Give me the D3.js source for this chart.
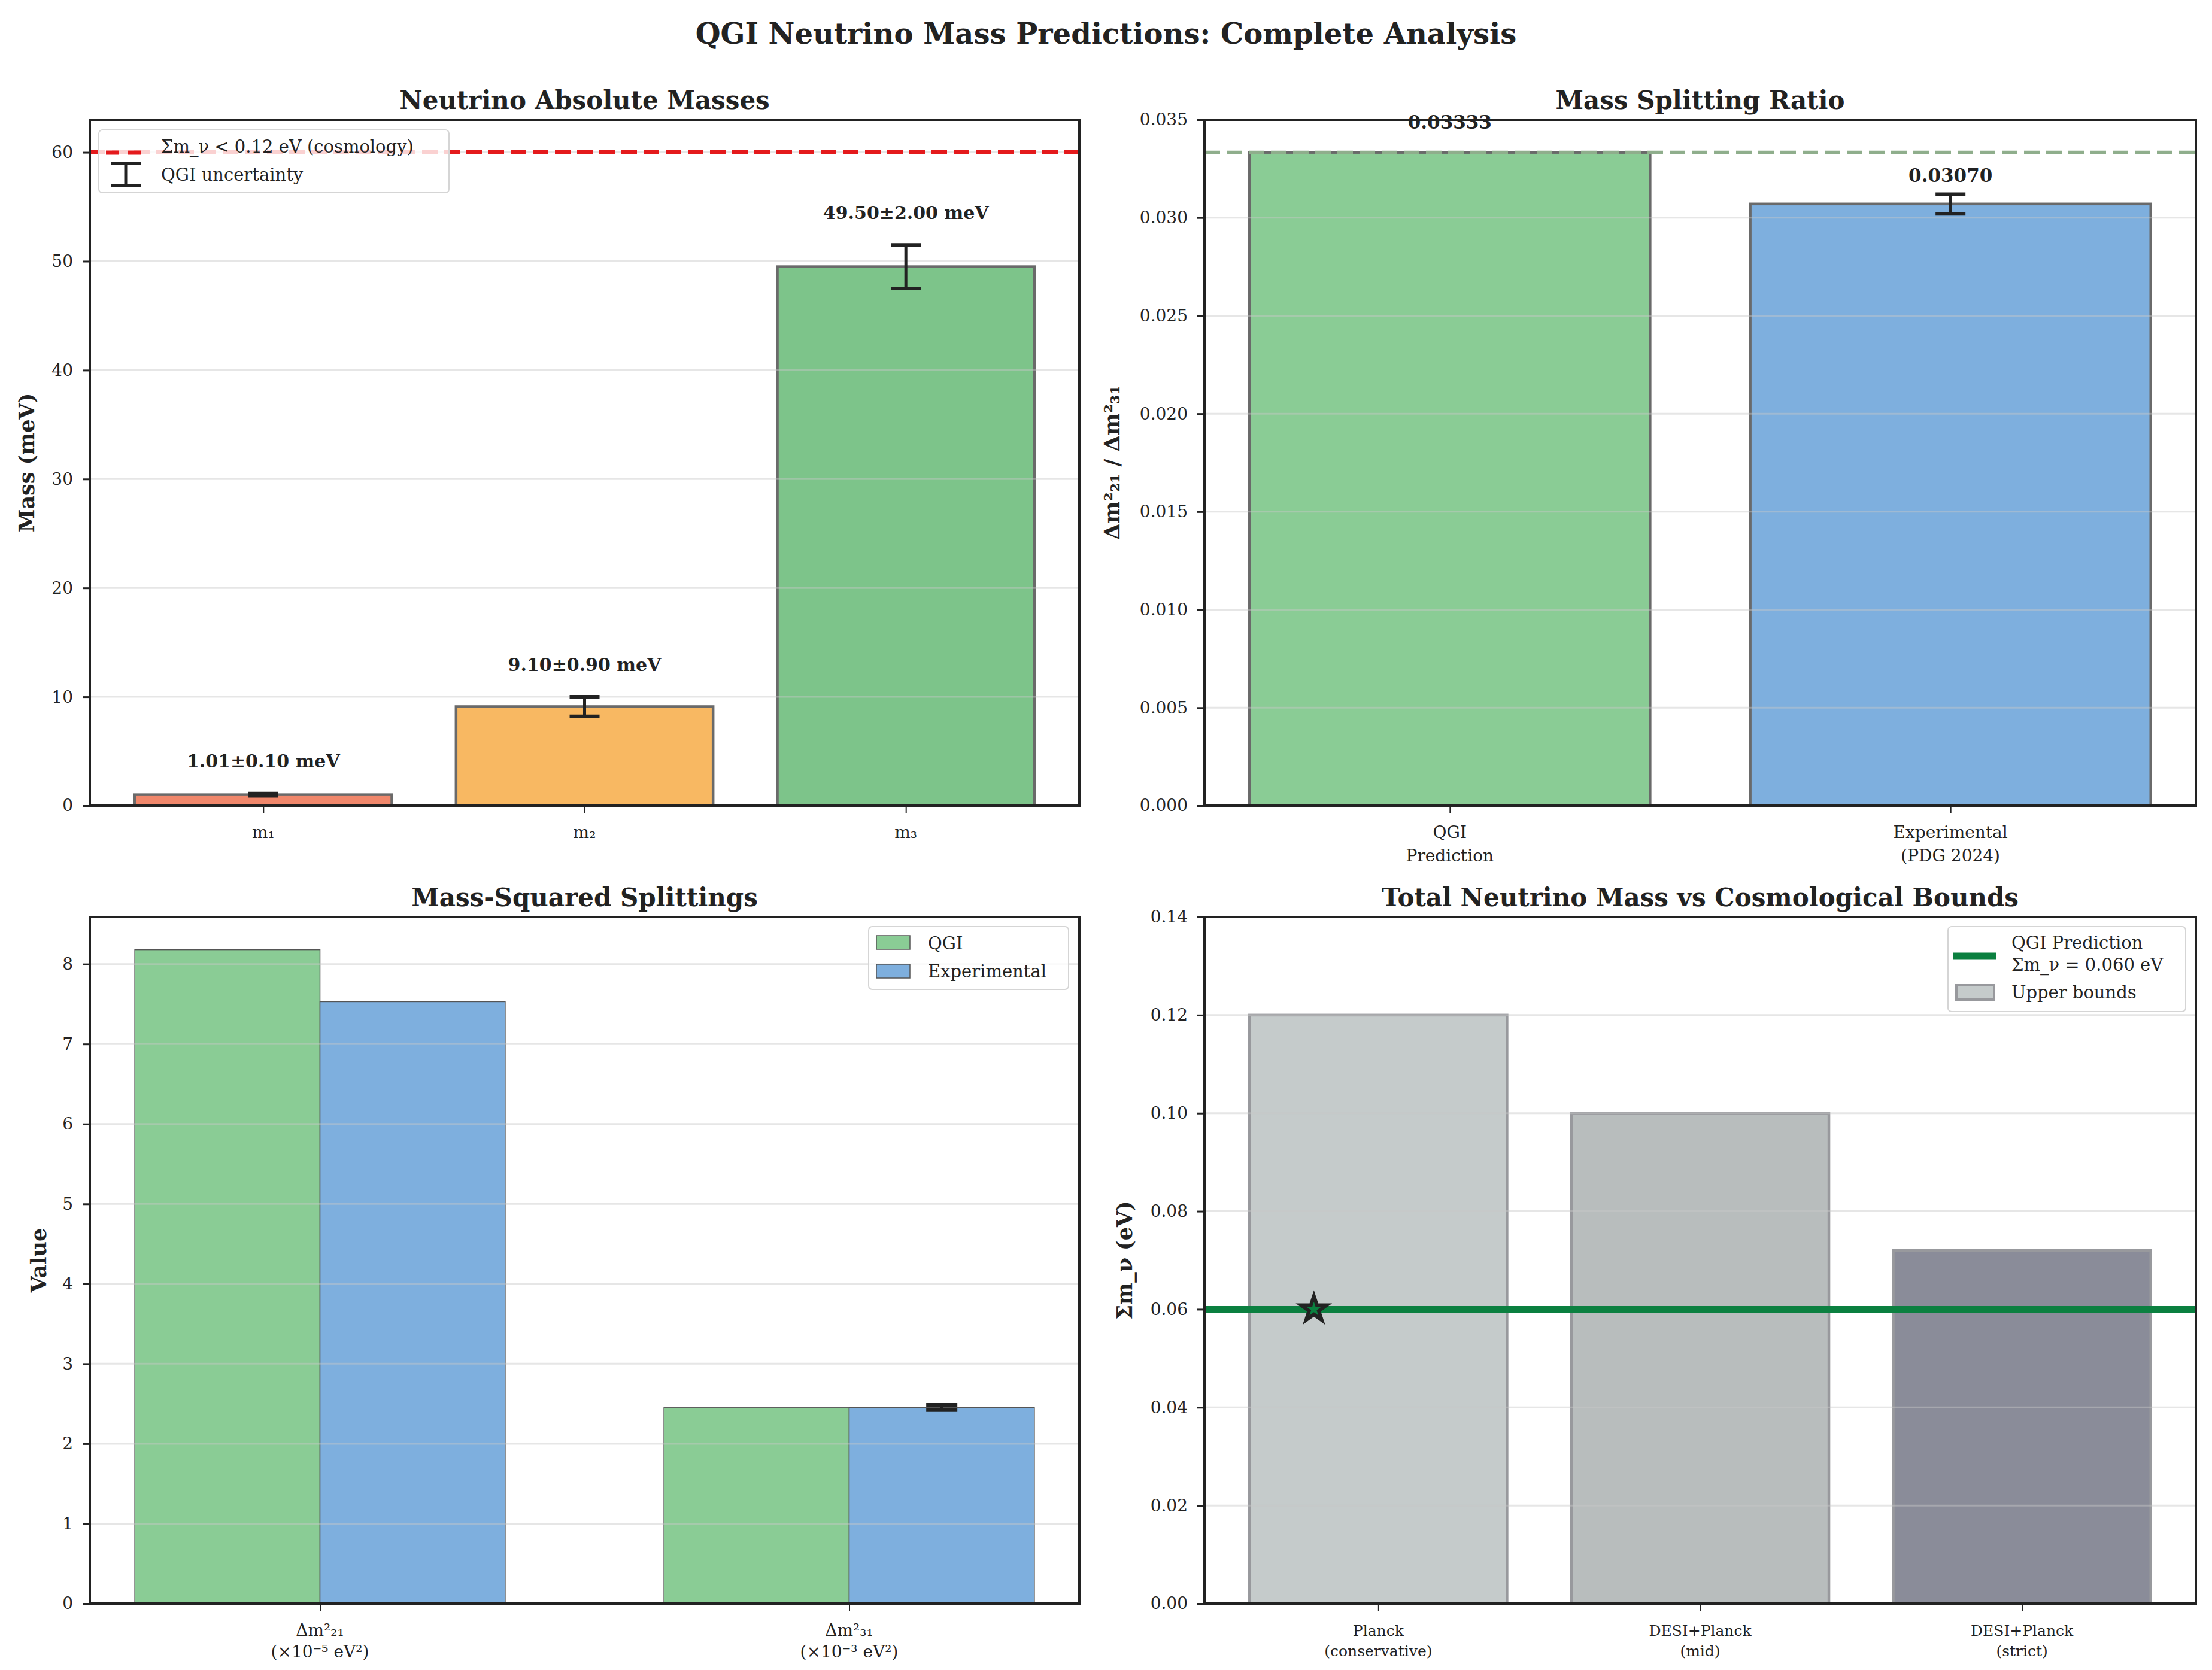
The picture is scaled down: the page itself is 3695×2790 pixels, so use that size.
<!DOCTYPE html>
<html>
<head>
<meta charset="utf-8">
<script src="https://cdn.jsdelivr.net/npm/d3@7"></script>
<style>
  body { margin: 0; background: #fff; }
  svg text { font-family: "DejaVu Serif", serif; fill: #222; }
</style>
</head>
<body>
<svg id="chart"></svg>
<script>
// ---- data ----
const massLabels = [['m₁'], ['m₂'], ['m₃']];
const massValues = [1.01, 9.10, 49.50];
const massErrors = [0.10, 0.90, 2.00];
const cosmoLimit = 60; // meV, Σm_ν < 0.12 eV line

const ratioLabels = [['QGI', 'Prediction'], ['Experimental', '(PDG 2024)']];
const ratioValues = [0.03333, 0.03070];
const ratioErrors = [null, 0.0005];

const splitLabels = [['Δm²₂₁', '(×10⁻⁵ eV²)'], ['Δm²₃₁', '(×10⁻³ eV²)']];
const splitQGI = [8.18, 2.45];
const splitExp = [7.53, 2.453];
const splitExpErr = [null, 0.033];

const boundLabels = [['Planck', '(conservative)'], ['DESI+Planck', '(mid)'], ['DESI+Planck', '(strict)']];
const boundValues = [0.12, 0.10, 0.072];
const qgiSum = 0.060;

// ---- styles ----
const massColors = ['#F0876B', '#F8B862', '#7DC48A'];
const ratioColors = ['#8ACC95', '#7EAFDE'];
const boundColors = ['#C5CBCB', '#B8BDBD', '#8A8C99'];
const ink = '#222';

const W = 3695, H = 2790;
const svg = d3.select('#chart').attr('width', W).attr('height', H);

function panel(box, xDomain, yDomain) {
    const g = svg.append('g').attr('transform', `translate(${box.x},${box.y})`);
    const x = d3.scaleLinear().domain(xDomain).range([0, box.w]);
    const y = d3.scaleLinear().domain(yDomain).range([box.h, 0]);
    return {
        g, x, y, box,
        bars: g.append('g'),
        grid: g.append('g'),
        lines: g.append('g'),
        over: g.append('g'),
        axes: g.append('g')
    };
}

function drawAxes(p, yTicks, yFmt, xLabels, xFont, lineH) {
    // grid
    p.grid.selectAll('line').data(yTicks).join('line')
        .attr('x1', 0).attr('x2', p.box.w)
        .attr('y1', d => p.y(d)).attr('y2', d => p.y(d))
        .attr('stroke', '#c8c8c8').attr('stroke-opacity', 0.45).attr('stroke-width', 3);

    const yAxis = d3.axisLeft(p.y).tickValues(yTicks).tickFormat(yFmt)
        .tickSize(12).tickPadding(16);
    const ya = p.axes.append('g').call(yAxis);
    ya.select('.domain').remove();
    ya.selectAll('line').attr('stroke', ink).attr('stroke-width', 3);
    ya.selectAll('text').attr('font-size', 28).attr('font-family', 'DejaVu Serif').attr('fill', ink);

    const xAxis = d3.axisBottom(p.x).tickValues(d3.range(xLabels.length))
        .tickSize(12).tickFormat('');
    const xa = p.axes.append('g').attr('transform', `translate(0,${p.box.h})`).call(xAxis);
    xa.select('.domain').remove();
    xa.selectAll('line').attr('stroke', ink).attr('stroke-width', 2);
    xLabels.forEach((lines, i) => {
        const t = p.axes.append('text')
            .attr('x', p.x(i)).attr('y', p.box.h + 54)
            .attr('text-anchor', 'middle').attr('font-size', xFont);
        lines.forEach((s, k) => {
            t.append('tspan').attr('x', p.x(i)).attr('dy', k === 0 ? 0 : lineH).text(s);
        });
    });

    // spines
    p.axes.append('rect').attr('width', p.box.w).attr('height', p.box.h)
        .attr('fill', 'none').attr('stroke', ink).attr('stroke-width', 4);
}

function title(p, text) {
    svg.append('text').attr('x', p.box.x + p.box.w / 2).attr('y', p.box.y - 18)
        .attr('text-anchor', 'middle').attr('font-size', 42).attr('font-weight', 'bold').text(text);
}

function yLabel(p, cx, text) {
    svg.append('text')
        .attr('transform', `translate(${cx},${p.box.y + p.box.h / 2}) rotate(-90)`)
        .attr('text-anchor', 'middle').attr('dominant-baseline', 'central')
        .attr('font-size', 35).attr('font-weight', 'bold').text(text);
}

function errorBar(layer, cx, y0, y1, capW) {
    layer.append('line').attr('x1', cx).attr('x2', cx).attr('y1', y0).attr('y2', y1)
        .attr('stroke', ink).attr('stroke-width', 5);
    [y0, y1].forEach(yy => layer.append('line')
        .attr('x1', cx - capW / 2).attr('x2', cx + capW / 2).attr('y1', yy).attr('y2', yy)
        .attr('stroke', ink).attr('stroke-width', 6));
}

function legendBox(p, x, y, w, h) {
    p.over.append('rect').attr('x', x).attr('y', y).attr('width', w).attr('height', h)
        .attr('rx', 6).attr('fill', '#fff').attr('fill-opacity', 0.8)
        .attr('stroke', '#d5d5d5').attr('stroke-width', 2);
}

// main title
svg.append('text').attr('x', W / 2).attr('y', 73).attr('text-anchor', 'middle')
    .attr('font-size', 48).attr('font-weight', 'bold')
    .text('QGI Neutrino Mass Predictions: Complete Analysis');

// ---- panel 1: absolute masses ----
{
    const p = panel({ x: 150, y: 200, w: 1653, h: 1146 }, [-0.54, 2.54], [0, 63]);
    const bw = p.x(0.8) - p.x(0);
    p.bars.selectAll('rect').data(massValues).join('rect')
        .attr('x', (d, i) => p.x(i - 0.4)).attr('width', bw)
        .attr('y', d => p.y(d)).attr('height', d => p.y(0) - p.y(d))
        .attr('fill', (d, i) => massColors[i])
        .attr('stroke', '#6a6a6a').attr('stroke-width', 4.5);
    massValues.forEach((v, i) => {
        errorBar(p.lines, p.x(i), p.y(v + massErrors[i]), p.y(v - massErrors[i]), 50);
        p.lines.append('text').attr('x', p.x(i)).attr('y', p.y(v + massErrors[i] + 2) - 7)
            .attr('text-anchor', 'middle').attr('font-size', 30).attr('font-weight', 'bold')
            .text(`${v.toFixed(2)}±${massErrors[i].toFixed(2)} meV`);
    });
    p.lines.append('line').attr('x1', 0).attr('x2', p.box.w)
        .attr('y1', p.y(cosmoLimit)).attr('y2', p.y(cosmoLimit))
        .attr('stroke', '#e41a1c').attr('stroke-width', 7).attr('stroke-dasharray', '26,11');
    drawAxes(p, d3.range(0, 61, 10), d3.format('d'), massLabels, 28, 38);
    legendBox(p, 15, 17, 585, 105);
    p.over.append('line').attr('x1', 27).attr('x2', 86).attr('y1', 55).attr('y2', 55)
        .attr('stroke', '#e41a1c').attr('stroke-width', 7).attr('stroke-dasharray', '22,14');
    errorBar(p.over, 60, 73, 110, 50);
    p.over.append('text').attr('x', 119).attr('y', 55).attr('font-size', 29).text('Σm_ν < 0.12 eV (cosmology)');
    p.over.append('text').attr('x', 119).attr('y', 102).attr('font-size', 29).text('QGI uncertainty');
    title(p, 'Neutrino Absolute Masses');
    yLabel(p, 44, 'Mass (meV)');
}

// ---- panel 2: splitting ratio ----
{
    const p = panel({ x: 2012, y: 200, w: 1656, h: 1146 }, [-0.49, 1.49], [0, 0.035]);
    const bw = p.x(0.8) - p.x(0);
    p.bars.selectAll('rect').data(ratioValues).join('rect')
        .attr('x', (d, i) => p.x(i - 0.4)).attr('width', bw)
        .attr('y', d => p.y(d)).attr('height', d => p.y(0) - p.y(d))
        .attr('fill', (d, i) => ratioColors[i])
        .attr('stroke', '#6a6a6a').attr('stroke-width', 4.5);
    p.lines.append('line').attr('x1', 0).attr('x2', p.box.w)
        .attr('y1', p.y(ratioValues[0])).attr('y2', p.y(ratioValues[0]))
        .attr('stroke', '#8fae8c').attr('stroke-width', 6).attr('stroke-dasharray', '26,11');
    ratioValues.forEach((v, i) => {
        if (ratioErrors[i] != null) {
            errorBar(p.lines, p.x(i), p.y(v + ratioErrors[i]), p.y(v - ratioErrors[i]), 50);
        }
        p.over.append('text').attr('x', p.x(i)).attr('y', p.y(v * 1.03) - 7)
            .attr('text-anchor', 'middle').attr('font-size', 31).attr('font-weight', 'bold')
            .text(v.toFixed(5));
    });
    drawAxes(p, d3.range(0, 0.0351, 0.005), d3.format('.3f'), ratioLabels, 28, 39);
    title(p, 'Mass Splitting Ratio');
    yLabel(p, 1857, 'Δm²₂₁ / Δm²₃₁');
}

// ---- panel 3: mass-squared splittings ----
{
    const p = panel({ x: 150, y: 1532, w: 1653, h: 1147 }, [-0.435, 1.435], [0, 8.589]);
    const bw = p.x(0.35) - p.x(0);
    p.bars.selectAll('rect.q').data(splitQGI).join('rect').attr('class', 'q')
        .attr('x', (d, i) => p.x(i - 0.35)).attr('width', bw)
        .attr('y', d => p.y(d)).attr('height', d => p.y(0) - p.y(d))
        .attr('fill', ratioColors[0]).attr('stroke', '#555').attr('stroke-width', 1.5);
    p.bars.selectAll('rect.e').data(splitExp).join('rect').attr('class', 'e')
        .attr('x', (d, i) => p.x(i)).attr('width', bw)
        .attr('y', d => p.y(d)).attr('height', d => p.y(0) - p.y(d))
        .attr('fill', ratioColors[1]).attr('stroke', '#555').attr('stroke-width', 1.5);
    splitExp.forEach((v, i) => {
        if (splitExpErr[i] != null) {
            errorBar(p.lines, p.x(i + 0.175), p.y(v + splitExpErr[i]), p.y(v - splitExpErr[i]), 52);
        }
    });
    drawAxes(p, d3.range(0, 9, 1), d3.format('d'), splitLabels, 28, 36);
    legendBox(p, 1301, 16, 334, 105);
    [['QGI', ratioColors[0]], ['Experimental', ratioColors[1]]].forEach(([s, c], k) => {
        p.over.append('rect').attr('x', 1314).attr('y', 31 + k * 48).attr('width', 56).attr('height', 23)
            .attr('fill', c).attr('stroke', '#555').attr('stroke-width', 1.5);
        p.over.append('text').attr('x', 1400).attr('y', 54 + k * 47).attr('font-size', 29).text(s);
    });
    title(p, 'Mass-Squared Splittings');
    yLabel(p, 64, 'Value');
}

// ---- panel 4: total mass vs bounds ----
{
    const p = panel({ x: 2012, y: 1532, w: 1656, h: 1147 }, [-0.54, 2.54], [0, 0.14]);
    const bw = p.x(0.8) - p.x(0);
    p.bars.selectAll('rect').data(boundValues).join('rect')
        .attr('x', (d, i) => p.x(i - 0.4)).attr('width', bw)
        .attr('y', d => p.y(d)).attr('height', d => p.y(0) - p.y(d))
        .attr('fill', (d, i) => boundColors[i])
        .attr('stroke', '#98999d').attr('stroke-width', 4.5);
    p.lines.append('line').attr('x1', 0).attr('x2', p.box.w)
        .attr('y1', p.y(qgiSum)).attr('y2', p.y(qgiSum))
        .attr('stroke', '#0b8040').attr('stroke-width', 11);
    p.lines.append('path')
        .attr('d', d3.symbol(d3.symbolStar).size(560)())
        .attr('transform', `translate(${p.x(-0.2)},${p.y(qgiSum)})`)
        .attr('fill', '#0b8040').attr('stroke', ink).attr('stroke-width', 6);
    drawAxes(p, d3.range(0, 0.141, 0.02), d3.format('.2f'), boundLabels, 25, 34);
    legendBox(p, 1242, 16, 397, 142);
    p.over.append('line').attr('x1', 1250).attr('x2', 1323).attr('y1', 65).attr('y2', 65)
        .attr('stroke', '#0b8040').attr('stroke-width', 11);
    p.over.append('text').attr('x', 1348).attr('y', 53).attr('font-size', 29).text('QGI Prediction');
    p.over.append('text').attr('x', 1348).attr('y', 90).attr('font-size', 29).text('Σm_ν = 0.060 eV');
    p.over.append('rect').attr('x', 1256).attr('y', 114).attr('width', 63).attr('height', 24)
        .attr('fill', boundColors[0]).attr('stroke', '#98999d').attr('stroke-width', 4);
    p.over.append('text').attr('x', 1348).attr('y', 136).attr('font-size', 29).text('Upper bounds');
    title(p, 'Total Neutrino Mass vs Cosmological Bounds');
    yLabel(p, 1878, 'Σm_ν (eV)');
}
</script>
</body>
</html>
